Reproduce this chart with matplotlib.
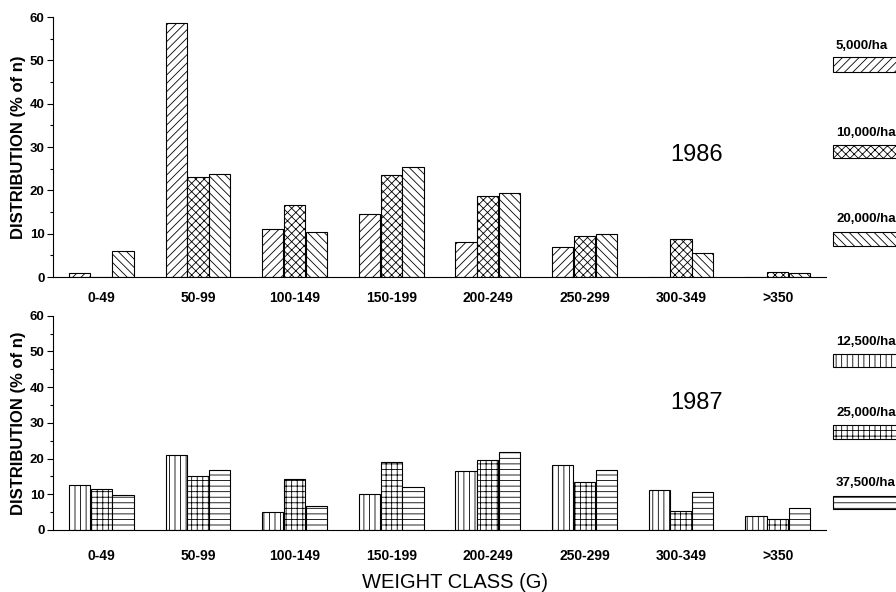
import numpy as np
import matplotlib.pyplot as plt
from matplotlib.patches import Rectangle

plt.rcParams['font.family'] = ['Liberation Sans', 'DejaVu Sans']
plt.rcParams['hatch.linewidth'] = 0.6

classes = ['0-49', '50-99', '100-149', '150-199', '200-249', '250-299', '300-349', '>350']

# 1986 stocking densities (% of n)
d5000 = [1.0, 58.6, 11.0, 14.5, 8.0, 6.9, 0.0, 0.0]
d10000 = [0.0, 23.1, 16.6, 23.5, 18.6, 9.5, 8.8, 1.2]
d20000 = [6.0, 23.7, 10.4, 25.3, 19.5, 9.9, 5.6, 0.9]

# 1987 stocking densities (% of n)
d12500 = [12.6, 21.1, 5.0, 10.0, 16.4, 18.3, 11.1, 4.0]
d25000 = [11.6, 15.0, 14.2, 19.0, 19.7, 13.4, 5.3, 3.1]
d37500 = [9.8, 16.7, 6.8, 11.9, 21.7, 16.9, 10.6, 6.1]

labels86 = ['5,000/ha', '10,000/ha', '20,000/ha']
labels87 = ['12,500/ha', '25,000/ha', '37,500/ha']
hatches86 = ['////', 'xxxx', '\\\\\\\\']
hatches87 = ['|||', '+++', '---']

W, H = 896, 592
fig = plt.figure(figsize=(W / 100, H / 100), dpi=100)


def fx(px):
    return px / W


def fy(py):
    return 1 - py / H


def draw_panel(ax, series, hatches, year, year_y, xpad):
    x = np.arange(len(classes))
    width = 0.22
    offsets = [-0.225, 0.0, 0.225]
    for vals, hatch, off in zip(series, hatches, offsets):
        ax.bar(x + off, vals, width, facecolor='white', edgecolor='black',
               linewidth=0.8, hatch=hatch)
    ax.set_xlim(-0.5, 7.5)
    ax.set_ylim(0, 60)
    ax.set_yticks(np.arange(0, 61, 10))
    ax.set_yticks(np.arange(5, 60, 10), minor=True)
    ax.set_xticks(x)
    ax.set_xticklabels(classes, fontsize=10, fontweight='bold')
    ax.tick_params(axis='x', length=0, pad=xpad)
    ax.tick_params(axis='y', which='major', length=4, width=0.8, labelsize=9.5, pad=2)
    ax.tick_params(axis='y', which='minor', length=2, width=0.8)
    for lab in ax.get_yticklabels():
        lab.set_fontweight('bold')
    ax.spines['top'].set_visible(False)
    ax.spines['right'].set_visible(False)
    ax.spines['left'].set_linewidth(0.8)
    ax.spines['bottom'].set_linewidth(0.8)
    ax.set_ylabel('DISTRIBUTION (% of n)', fontsize=12, fontweight='bold', labelpad=3)
    fig.text(fx(697), fy(year_y), year, fontsize=17, ha='center', va='center')


ax1 = fig.add_axes([fx(53), fy(277), fx(826) - fx(53), (277 - 17) / H])
draw_panel(ax1, [d5000, d10000, d20000], hatches86, '1986', 155, 10)

ax2 = fig.add_axes([fx(53), fy(530), fx(826) - fx(53), (530 - 315.7) / H])
draw_panel(ax2, [d12500, d25000, d37500], hatches87, '1987', 403, 14)
fig.text(fx(455), fy(583), 'WEIGHT CLASS (G)', fontsize=14.5, ha='center', va='center')

# legend boxes at right edge (cut off by the figure border)
legend_rows = [(labels86[0], hatches86[0], 46, 57, 72),
               (labels86[1], hatches86[1], 133, 145, 158),
               (labels86[2], hatches86[2], 219, 232, 246),
               (labels87[0], hatches87[0], 342, 354, 367),
               (labels87[1], hatches87[1], 413, 425, 439),
               (labels87[2], hatches87[2], 483, 496, 509)]
for lab, hatch, ty, y0, y1 in legend_rows:
    fig.text(fx(836), fy(ty), lab, fontsize=9.5, fontweight='bold', ha='left', va='center')
    fig.add_artist(Rectangle((fx(833), fy(y1)), fx(80), (y1 - y0) / H,
                             transform=fig.transFigure, facecolor='white',
                             edgecolor='black', linewidth=0.8, hatch=hatch))

fig.savefig('out.png', dpi=100)
